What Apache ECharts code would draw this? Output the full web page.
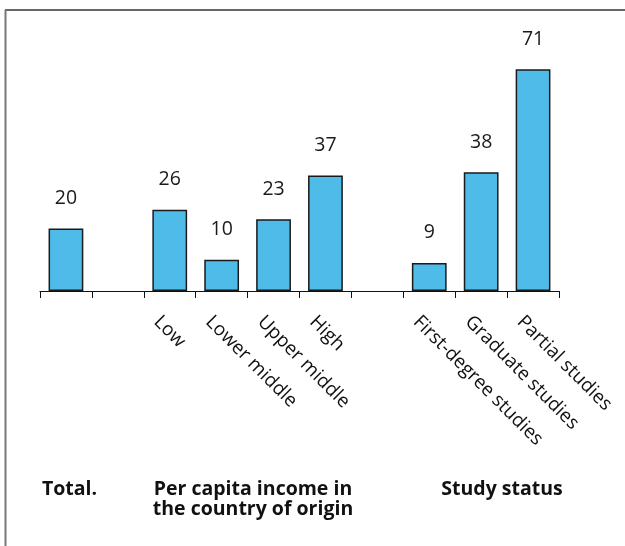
<!DOCTYPE html>
<html>
<head>
<meta charset="utf-8">
<script src="https://cdn.jsdelivr.net/npm/echarts@6/dist/echarts.min.js"></script>
<style>
  html, body { margin: 0; padding: 0; background: #fff; }
  #chart { width: 625px; height: 546px; }
</style>
</head>
<body>
<div id="chart"></div>
<script>
// category keys (unique) and the text shown under each slot
var categories = ['total', 'gap1', 'low', 'lowerMiddle', 'upperMiddle', 'high', 'gap2', 'firstDegree', 'graduate', 'partial'];
var categoryLabels = ['', '', 'Low', 'Lower middle', 'Upper middle', 'High', '', 'First-degree studies', 'Graduate studies', 'Partial studies'];
var values = [20, null, 26, 10, 23, 37, null, 9, 38, 71];
var groupTitles = ['Total.', 'Per capita income in\nthe country of origin', 'Study status'];

var myChart = echarts.init(document.getElementById('chart'));

var font = '"Open Sans", "Noto Sans", sans-serif';

var option = {
    animation: false,
    grid: [
        { left: 40, right: 66, top: 41, bottom: 255 },
        // same plot shifted left, only used to place the slanted labels
        { left: 27, right: 79, top: 41, bottom: 255 }
    ],
    xAxis: [
        {
            type: 'category',
            gridIndex: 0,
            data: categories,
            boundaryGap: true,
            axisLine: { lineStyle: { color: '#111', width: 1 } },
            axisTick: { show: true, interval: 0, length: 7, lineStyle: { color: '#111', width: 1 } },
            axisLabel: { show: false }
        },
        {
            type: 'category',
            gridIndex: 1,
            data: categories,
            boundaryGap: true,
            axisLine: { show: false },
            axisTick: { show: false },
            axisLabel: {
                interval: 0,
                rotate: -45,
                margin: 28,
                fontSize: 19,
                fontFamily: font,
                color: '#111',
                formatter: function (v, i) { return categoryLabels[i]; }
            }
        }
    ],
    yAxis: [
        { type: 'value', gridIndex: 0, min: 0, max: 80, show: false },
        { type: 'value', gridIndex: 1, min: 0, max: 80, show: false }
    ],
    series: [
        {
            type: 'bar',
            xAxisIndex: 0,
            yAxisIndex: 0,
            data: values,
            barCategoryGap: '33%',
            itemStyle: {
                color: '#4FBBE9',
                borderColor: '#1a1a1a',
                borderWidth: 1.5
            },
            label: {
                show: true,
                position: 'top',
                distance: 20,
                fontSize: 19.5,
                fontFamily: font,
                color: '#1a1a1a'
            }
        }
    ],
    graphic: [
        // frame: only top and left edges are visible
        { type: 'line', shape: { x1: 5, y1: 10, x2: 625, y2: 10 }, style: { stroke: '#333', lineWidth: 1.5 } },
        { type: 'line', shape: { x1: 5.5, y1: 10, x2: 5.5, y2: 546 }, style: { stroke: '#777', lineWidth: 2 } },
        {
            type: 'text', x: 42, y: 479,
            style: { text: groupTitles[0], font: 'bold 19.5px ' + font, fill: '#111', lineHeight: 20 }
        },
        {
            type: 'text', x: 253, y: 479,
            style: { text: groupTitles[1], font: 'bold 19.5px ' + font, fill: '#111', align: 'center', lineHeight: 20 }
        },
        {
            type: 'text', x: 502, y: 479,
            style: { text: groupTitles[2], font: 'bold 19.5px ' + font, fill: '#111', align: 'center', lineHeight: 20 }
        }
    ]
};

myChart.setOption(option, true);
</script>
</body>
</html>
